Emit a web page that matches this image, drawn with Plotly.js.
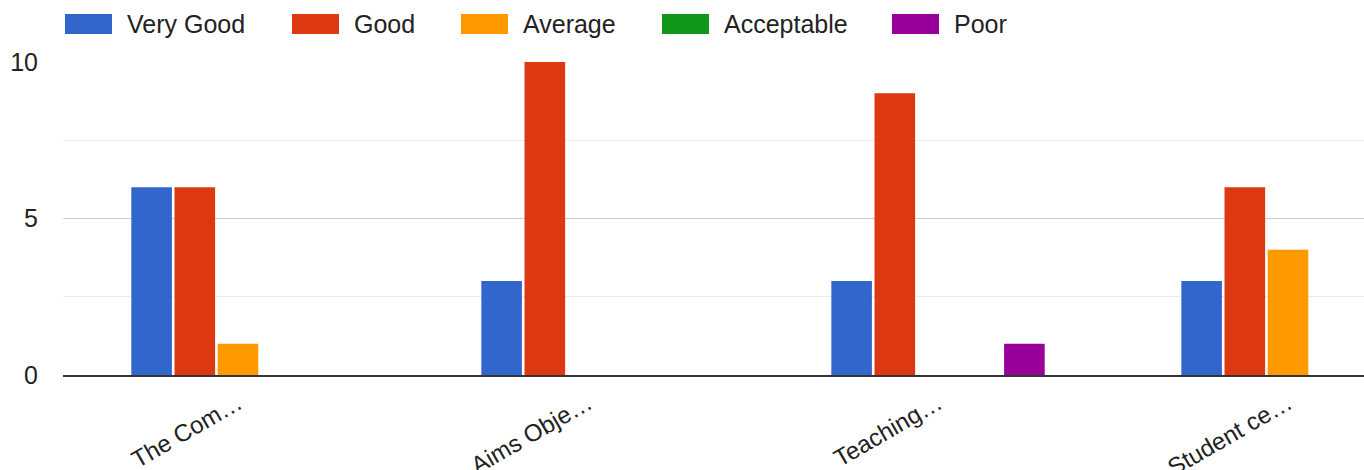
<!DOCTYPE html>
<html>
<head>
<meta charset="utf-8">
<script src="https://cdn.plot.ly/plotly-3.0.1.min.js"></script>
<style>html,body{margin:0;padding:0;background:#fff;}#chart{width:1364px;height:470px;}</style>
</head>
<body>
<div id="chart"></div>
<script>
const categories = ["The Com…", "Aims Obje…", "Teaching…", "Student ce…"];
const seriesNames = ["Very Good", "Good", "Average", "Acceptable", "Poor"];
const veryGood = [6, 3, 3, 3];
const good = [6, 10, 9, 6];
const average = [1, 0, 0, 4];
const acceptable = [0, 0, 0, 0];
const poor = [0, 0, 1, 0];
const yTicks = [0, 5, 10];

const colors = ["#3366cc", "#dc3912", "#ff9900", "#109618", "#990099"];
const seriesValues = [veryGood, good, average, acceptable, poor];

const traces = seriesNames.map((name, i) => ({
  type: "bar",
  name: name,
  x: categories,
  y: seriesValues[i],
  marker: {color: colors[i], line: {width: 0}},
  hoverinfo: "x+y+name"
}));

const W = 1364, H = 470;
const m = {l: 63, r: 0, t: 62, b: 95};
const pw = W - m.l - m.r, ph = H - m.t - m.b;
const px2x = p => (p - m.l) / pw;
const py2y = p => (H - m.b - p) / ph;

// custom legend (large swatches like Google Charts)
const swatchLeft = [65, 292, 461, 662, 892];
const swW = 47, swTop = 14, swBot = 34;
const shapes = [];
const annotations = [];
seriesNames.forEach((name, i) => {
  shapes.push({
    type: "rect", xref: "paper", yref: "paper",
    x0: px2x(swatchLeft[i]), x1: px2x(swatchLeft[i] + swW),
    y0: py2y(swBot), y1: py2y(swTop),
    fillcolor: colors[i], line: {width: 0}
  });
  annotations.push({
    xref: "paper", yref: "paper",
    x: px2x(swatchLeft[i] + swW + 13), y: py2y((swTop + swBot) / 2),
    xanchor: "left", yanchor: "middle", showarrow: false,
    text: name, font: {family: "Liberation Sans, Arial, sans-serif", size: 25, color: "#222"}
  });
});

const layout = {
  width: W, height: H,
  margin: m,
  paper_bgcolor: "#fff", plot_bgcolor: "#fff",
  showlegend: false,
  barmode: "group",
  bargap: 0.383,
  bargroupgap: 0.06,
  font: {family: "Liberation Sans, Arial, sans-serif", size: 25, color: "#222"},
  xaxis: {
    type: "category",
    range: [-0.5, -0.5 + pw / 350],
    tickangle: -30,
    showgrid: false,
    zeroline: false,
    showline: true, linecolor: "#333", linewidth: 2,
    ticks: "", ticklabelstandoff: 3,
    tickfont: {size: 24, color: "#222"}
  },
  yaxis: {
    range: [0, 10],
    tickvals: yTicks,
    ticktext: yTicks.map(String),
    showgrid: true, gridcolor: "#cccccc", gridwidth: 1,
    zeroline: false, showline: false,
    ticks: "", ticklabelstandoff: 24,
    tickfont: {size: 25, color: "#222"},
    minor: {tickvals: [2.5, 7.5], showgrid: true, gridcolor: "#ebebeb", gridwidth: 1, ticks: ""}
  },
  shapes: shapes,
  annotations: annotations
};

Plotly.newPlot("chart", traces, layout, {displayModeBar: false, staticPlot: true});
</script>
</body>
</html>
